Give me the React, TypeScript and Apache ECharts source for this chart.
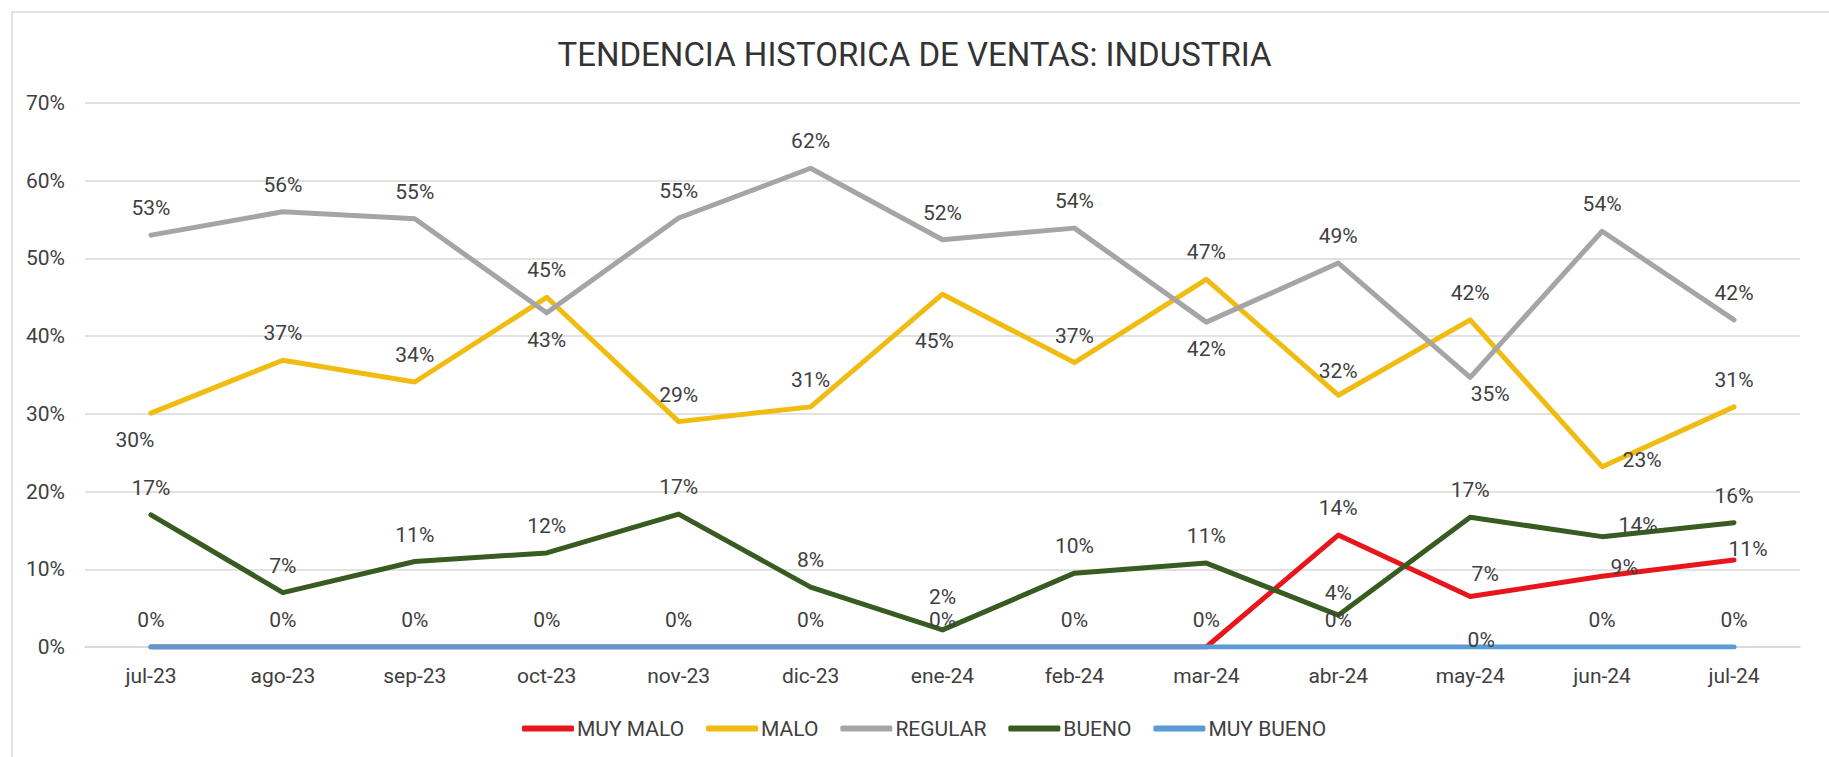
import React, { useEffect, useRef } from "react";
import * as echarts from "echarts";

const categories = ["jul-23", "ago-23", "sep-23", "oct-23", "nov-23", "dic-23", "ene-24", "feb-24", "mar-24", "abr-24", "may-24", "jun-24", "jul-24"];
const muyMalo = [0, 0, 0, 0, 0, 0, 0, 0, 0, 14.4, 6.5, 9.1, 11.2];
const malo = [30.1, 36.9, 34.1, 45.0, 29.0, 30.9, 45.4, 36.6, 47.3, 32.4, 42.1, 23.2, 30.9];
const regular = [53.0, 56.0, 55.1, 43.0, 55.2, 61.6, 52.4, 53.9, 41.8, 49.4, 34.7, 53.5, 42.1];
const bueno = [17.0, 7.0, 11.0, 12.1, 17.1, 7.7, 2.2, 9.5, 10.8, 4.1, 16.7, 14.2, 16.0];
const muyBueno = [0, 0, 0, 0, 0, 0, 0, 0, 0, 0, 0, 0, 0];

const seriesNames = ["MUY MALO", "MALO", "REGULAR", "BUENO", "MUY BUENO"];
const seriesColors = ["#e8161b", "#f0bc12", "#a5a5a5", "#385b22", "#5b9bd5"];

type Tweak = string | [string, number, number] | null;
const T = "top";
const B = "bottom";
const R = "right";

const muyMaloLabels: Tweak[] = [null, null, null, null, null, null, null, null, null, T, [T, 15, 5], [R, -8, -9], [T, 14, 16]];
const maloLabels: Tweak[] = [[B, -16, 0], T, T, T, T, T, [B, -8, 20], T, T, [T, 0, 3], T, [R, 4, -7], T];
const regularLabels: Tweak[] = [T, T, T, B, T, T, T, T, B, T, [B, 20, -10], T, T];
const buenoLabels: Tweak[] = [T, T, T, T, T, T, [T, 0, -6], T, T, [T, 0, 5], T, [R, 0, -12], T];
const muyBuenoLabels: Tweak[] = [T, T, T, T, T, T, T, T, T, T, [T, 11, 20], T, T];

const FONT = "Roboto";
const TEXT = "#404040";

function buildData(values: number[], tweaks: Tweak[]) {
  return values.map((v, i) => {
    const t = tweaks[i];
    if (t === null) return { value: v, label: { show: false } };
    if (typeof t === "string") return { value: v, label: { show: true, position: t } };
    return { value: v, label: { show: true, position: t[0], offset: [t[1], t[2]] } };
  });
}

export default function App() {
  const ref = useRef<HTMLDivElement>(null);
  useEffect(() => {
    if (!ref.current) return;
    const chart = echarts.init(ref.current, null, { renderer: "svg" });
    const allValues = [muyMalo, malo, regular, bueno, muyBueno];
    const allTweaks = [muyMaloLabels, maloLabels, regularLabels, buenoLabels, muyBuenoLabels];
    chart.setOption({
      animation: false,
      backgroundColor: "#ffffff",
      textStyle: { fontFamily: FONT },
      title: {
        text: "TENDENCIA HISTORICA DE VENTAS: INDUSTRIA",
        left: "center",
        top: 33,
        textStyle: { fontFamily: FONT, fontSize: 33, fontWeight: "normal", color: "#333333" },
      },
      legend: {
        data: seriesNames,
        left: 517,
        top: 713,
        itemWidth: 52,
        itemHeight: 6,
        itemGap: 22,
        icon: "roundRect",
        textStyle: { fontFamily: FONT, fontSize: 21, color: TEXT, padding: [0, 0, 0, -2] },
      },
      grid: { left: 85, right: 29, top: 103, bottom: 110, containLabel: false },
      xAxis: {
        type: "category",
        data: categories,
        boundaryGap: true,
        axisLine: { show: true, lineStyle: { color: "#d9d9d9", width: 1.5 } },
        axisTick: { show: false },
        axisLabel: { color: TEXT, fontFamily: FONT, fontSize: 21, margin: 18 },
      },
      yAxis: {
        type: "value",
        min: 0,
        max: 70,
        interval: 10,
        axisLine: { show: false },
        axisTick: { show: false },
        axisLabel: { color: TEXT, fontFamily: FONT, fontSize: 21, margin: 20, formatter: "{value}%" },
        splitLine: { lineStyle: { color: "#d9d9d9", width: 1.5 } },
      },
      graphic: [
        {
          type: "rect",
          silent: true,
          z: -10,
          shape: { x: 12, y: 12, width: 1900, height: 900 },
          style: { fill: "none", stroke: "#d9d9d9", lineWidth: 1.5 },
        },
      ],
      series: seriesNames.map((name, si) => ({
        name,
        type: "line",
        data: buildData(allValues[si], allTweaks[si]),
        symbol: "circle",
        symbolSize: 1,
        showSymbol: true,
        color: seriesColors[si],
        itemStyle: { color: seriesColors[si] },
        lineStyle: { color: seriesColors[si], width: 5, cap: "round", join: "round" },
        label: {
          show: true,
          distance: 16,
          color: TEXT,
          fontFamily: FONT,
          fontSize: 21,
          formatter: (p: any) => Math.round(p.value) + "%",
        },
        z: 2 + si,
      })),
    });
    return () => chart.dispose();
  }, []);
  return <div ref={ref} style={{ position: "fixed", left: 0, top: 0, width: 1829, height: 757 }} />;
}
